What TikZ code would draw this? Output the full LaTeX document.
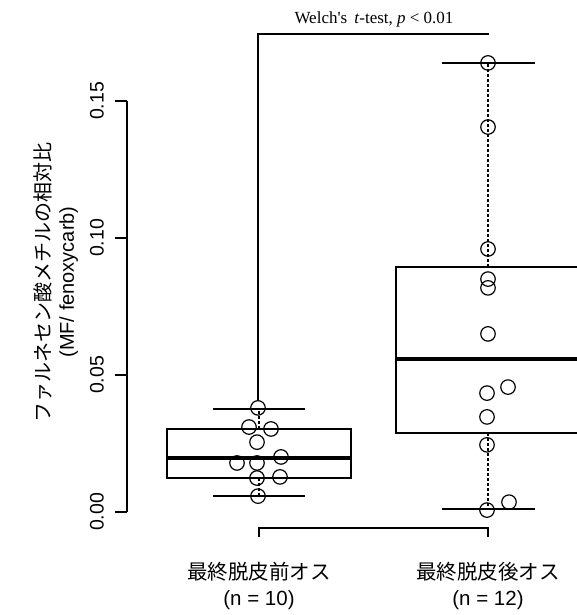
\documentclass[tikz,border=0pt]{standalone}
\usepackage{fontspec}
\setmainfont{Liberation Sans}
\newfontfamily\jpfont{Noto Sans CJK JP}
\newfontfamily\timesfont{Liberation Serif}
\usetikzlibrary{calc}

\begin{document}
\begin{tikzpicture}[x=1pt,y=-1pt,
    obs/.style={draw,circle,inner sep=0pt,minimum size=14.5pt,line width=1.2pt},
    boxline/.style={line width=1.5pt},
    whisker/.style={line width=1.2pt,dashed,dash pattern=on 3pt off 2pt},
    lbl/.style={font=\fontsize{20.5}{26}\selectfont,align=center,inner sep=0pt}]
    \useasboundingbox (0,0) rectangle (577,615);

    % Test bracket and text on top:
    \node[font=\timesfont\fontsize{17}{20}\selectfont,inner sep=0pt] (welch) at (374,19)
        {Welch's\, \textit{t}-test, \textit{p} < 0.01};
    \coordinate (wl) at (258,34);
    \coordinate (wr) at (489,34);
    \coordinate (wd) at (258,400);
    \draw[line width=1.2pt] (wd) -- (wl) -- (wr);

    % Data are drawn in a scope whose y unit is the ratio itself:
    \begin{scope}[shift={(0,512)},y={(0pt,2740pt)}]
        % Axes:
        \draw[line width=1.2pt] (127,0) -- (127,0.15);
        \foreach \v/\t [count=\i] in {0/0.00,0.05/0.05,0.10/0.10,0.15/0.15}{%
            \draw[line width=1.2pt] (115,\v) -- (127,\v);
            \node[lbl,font=\fontsize{19.5}{23}\selectfont,rotate=90] (tick\i) at (97,\v) {\t};
        }

        % Boxes:
        % whiskers first, then the box with its median
        \draw[whisker] (259,0.0303) -- (259,0.0376);
        \draw[whisker] (259,0.0124) -- (259,0.0058);
        \draw[boxline] (213,0.0376) -- (305,0.0376);
        \draw[boxline] (213,0.0058) -- (305,0.0058);
        \draw[boxline] (167,0.0124) rectangle (351,0.0303);
        \draw[line width=3.5pt] (167,0.0197) -- (351,0.0197);

        \draw[whisker] (488,0.0894) -- (488,0.1639);
        \draw[whisker] (488,0.0288) -- (488,0.0011);
        \draw[boxline] (442,0.1639) -- (535,0.1639);
        \draw[boxline] (442,0.0011) -- (535,0.0011);
        \draw[boxline] (396,0.0288) rectangle (580,0.0894);
        \draw[line width=3.5pt] (396,0.0558) -- (580,0.0558);

        % Points
        \foreach \x/\v [count=\i] in {258/0.0380,249/0.0310,271/0.0303,257/0.0255,237/0.0179,
                257/0.0179,281/0.0201,257/0.0124,280/0.0128,258/0.0058}{%
            \node[obs] (pre\i) at (\x,\v) {};
        }
        \foreach \x/\v [count=\i] in {488/0.1639,488/0.1405,488/0.0960,488/0.0850,488/0.0818,
                488/0.0650,508/0.0456,487/0.0434,487/0.0347,487/0.0245,487/0.0007,509/0.0036}{%
            \node[obs] (post\i) at (\x,\v) {};
        }
    \end{scope}

    % Axis label:
    \node[lbl,font=\fontsize{20}{23}\selectfont,rotate=90] (ylab) at (56,282)
        {{\jpfont ファルネセン酸メチルの相対比}\\(MF/ fenoxycarb)};

    % Group labels and the lower bracket
    \node[lbl] (pre) at (259,586) {{\jpfont 最終脱皮前オス}\\(n = 10)};
    \node[lbl] (post) at (488,586) {{\jpfont 最終脱皮後オス}\\(n = 12)};
    \coordinate (bl) at (259,528);
    \coordinate (br) at (488,528);
    \draw[line width=1.2pt] ($(bl)+(0,9)$) -- (bl) -- (br) -- ($(br)+(0,9)$);
\end{tikzpicture}
\end{document}
